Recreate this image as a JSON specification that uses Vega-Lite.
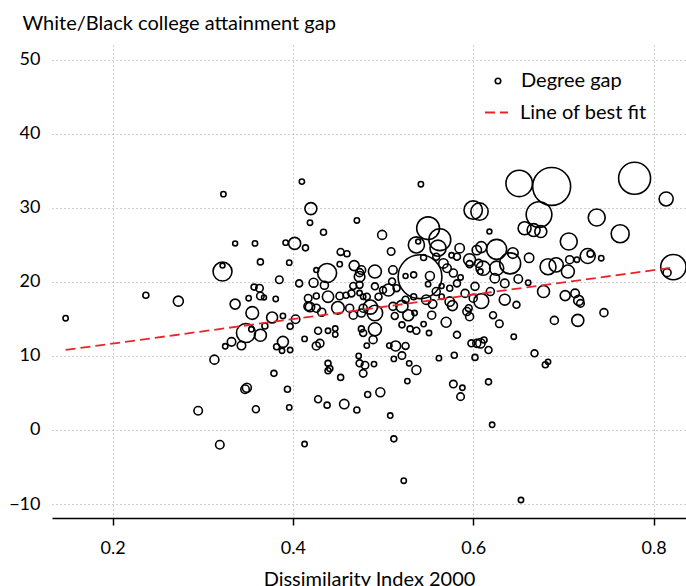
{
  "$schema": "https://vega.github.io/schema/vega-lite/v6.json",
  "width": 634,
  "height": 473,
  "autosize": {"type": "none"},
  "padding": {"left": 52, "top": 45, "right": 0, "bottom": 68},
  "background": "white",
  "config": {
    "font": "Lato",
    "view": {"stroke": null},
    "axis": {
      "labelFont": "Lato",
      "labelFontSize": 18,
      "labelColor": "black",
      "titleFont": "Lato",
      "titleFontSize": 20,
      "titleFontWeight": "normal",
      "titleColor": "black",
      "gridColor": "#a0a0a0",
      "gridDash": [1, 3],
      "gridWidth": 1
    },
    "legend": {
      "labelFont": "Lato",
      "labelFontSize": 20,
      "labelColor": "black"
    }
  },
  "datasets": {
    "pts": [
      {"d":0.323,"g":31.85,"p":7},{"d":0.148,"g":15.1,"p":7},{"d":0.237,"g":18.2,"p":9},{"d":0.273,"g":17.4,"p":25},
      {"d":0.322,"g":21.4,"p":90},{"d":0.322,"g":22.2,"p":6},{"d":0.336,"g":25.2,"p":6},{"d":0.358,"g":25.2,"p":7},
      {"d":0.336,"g":17.0,"p":25},{"d":0.351,"g":17.8,"p":7},{"d":0.355,"g":15.8,"p":40},{"d":0.348,"g":13.1,"p":90},
      {"d":0.354,"g":13.6,"p":7},{"d":0.332,"g":11.9,"p":18},{"d":0.325,"g":11.3,"p":7},{"d":0.343,"g":11.4,"p":18},
      {"d":0.313,"g":9.5,"p":20},{"d":0.349,"g":5.7,"p":20},{"d":0.347,"g":5.5,"p":18},{"d":0.295,"g":2.6,"p":18},
      {"d":0.359,"g":2.8,"p":12},{"d":0.319,"g":-2.0,"p":18},
      {"d":0.410,"g":33.55,"p":7},{"d":0.420,"g":29.9,"p":36},{"d":0.419,"g":28.0,"p":7},{"d":0.471,"g":28.3,"p":7},
      {"d":0.434,"g":26.7,"p":9},{"d":0.392,"g":25.3,"p":7},{"d":0.402,"g":25.2,"p":36},{"d":0.414,"g":24.6,"p":9},
      {"d":0.364,"g":22.7,"p":9},{"d":0.396,"g":22.6,"p":7},{"d":0.453,"g":24.05,"p":12},{"d":0.460,"g":23.8,"p":9},
      {"d":0.452,"g":22.4,"p":7},{"d":0.438,"g":21.2,"p":90},{"d":0.468,"g":22.2,"p":25},{"d":0.426,"g":21.6,"p":6},
      {"d":0.476,"g":21.6,"p":18},{"d":0.474,"g":20.7,"p":28},{"d":0.385,"g":20.3,"p":14},{"d":0.407,"g":19.8,"p":12},
      {"d":0.423,"g":19.9,"p":20},{"d":0.435,"g":19.55,"p":16},{"d":0.357,"g":19.3,"p":9},{"d":0.363,"g":19.15,"p":14},
      {"d":0.364,"g":18.1,"p":14},{"d":0.368,"g":17.9,"p":6},{"d":0.381,"g":17.7,"p":7},{"d":0.417,"g":17.8,"p":14},
      {"d":0.426,"g":18.1,"p":9},{"d":0.439,"g":18.0,"p":32},{"d":0.452,"g":18.1,"p":14},{"d":0.459,"g":18.2,"p":9},
      {"d":0.417,"g":16.7,"p":18},{"d":0.450,"g":16.5,"p":40},{"d":0.478,"g":18.0,"p":7},{"d":0.474,"g":18.5,"p":7},
      {"d":0.377,"g":15.2,"p":30},{"d":0.389,"g":15.4,"p":7},{"d":0.403,"g":14.95,"p":18},{"d":0.419,"g":16.6,"p":22},
      {"d":0.426,"g":16.45,"p":16},{"d":0.467,"g":15.5,"p":16},{"d":0.476,"g":15.8,"p":16},{"d":0.369,"g":14.05,"p":9},
      {"d":0.364,"g":12.8,"p":36},{"d":0.397,"g":14.0,"p":9},{"d":0.389,"g":11.9,"p":30},{"d":0.382,"g":11.25,"p":9},
      {"d":0.388,"g":10.7,"p":7},{"d":0.397,"g":10.8,"p":7},{"d":0.413,"g":12.3,"p":7},{"d":0.428,"g":13.4,"p":12},
      {"d":0.439,"g":13.4,"p":7},{"d":0.447,"g":13.7,"p":7},{"d":0.447,"g":12.9,"p":7},{"d":0.430,"g":11.7,"p":16},
      {"d":0.426,"g":11.35,"p":16},{"d":0.476,"g":13.65,"p":9},{"d":0.478,"g":13.1,"p":12},{"d":0.482,"g":11.4,"p":7},
      {"d":0.473,"g":10.0,"p":7},{"d":0.439,"g":9.0,"p":9},{"d":0.439,"g":8.0,"p":9},{"d":0.441,"g":8.3,"p":9},
      {"d":0.474,"g":9.0,"p":12},{"d":0.480,"g":8.75,"p":14},{"d":0.478,"g":7.65,"p":14},{"d":0.453,"g":7.1,"p":9},
      {"d":0.379,"g":7.65,"p":9},{"d":0.394,"g":5.5,"p":9},{"d":0.428,"g":4.15,"p":12},{"d":0.438,"g":3.35,"p":9},
      {"d":0.457,"g":3.5,"p":22},{"d":0.471,"g":2.7,"p":9},{"d":0.483,"g":4.8,"p":9},{"d":0.396,"g":3.05,"p":7},
      {"d":0.413,"g":-1.9,"p":7},
      {"d":0.542,"g":33.2,"p":7},{"d":0.600,"g":29.7,"p":85},{"d":0.607,"g":29.5,"p":75},{"d":0.550,"g":27.25,"p":130},
      {"d":0.563,"g":25.7,"p":120},{"d":0.537,"g":25.0,"p":65},{"d":0.561,"g":24.55,"p":65},{"d":0.499,"g":26.35,"p":20},
      {"d":0.509,"g":24.1,"p":14},{"d":0.541,"g":20.7,"p":480},{"d":0.525,"g":20.8,"p":6},{"d":0.534,"g":20.95,"p":9},
      {"d":0.552,"g":20.8,"p":20},{"d":0.550,"g":19.7,"p":7},{"d":0.539,"g":25.45,"p":6},{"d":0.545,"g":23.3,"p":9},
      {"d":0.559,"g":23.4,"p":12},{"d":0.567,"g":22.5,"p":22},{"d":0.571,"g":21.85,"p":18},{"d":0.576,"g":23.6,"p":7},
      {"d":0.585,"g":24.55,"p":22},{"d":0.582,"g":23.4,"p":12},{"d":0.596,"g":23.0,"p":36},{"d":0.604,"g":24.3,"p":22},
      {"d":0.606,"g":22.5,"p":16},{"d":0.491,"g":21.4,"p":42},{"d":0.511,"g":21.6,"p":18},{"d":0.474,"g":21.25,"p":16},
      {"d":0.474,"g":19.6,"p":12},{"d":0.510,"g":20.05,"p":12},{"d":0.491,"g":19.4,"p":12},{"d":0.506,"g":18.9,"p":36},
      {"d":0.515,"g":19.15,"p":12},{"d":0.495,"g":18.0,"p":12},{"d":0.482,"g":18.0,"p":12},{"d":0.534,"g":18.0,"p":9},
      {"d":0.548,"g":17.6,"p":22},{"d":0.565,"g":18.0,"p":7},{"d":0.574,"g":17.35,"p":22},{"d":0.591,"g":18.45,"p":16},
      {"d":0.600,"g":17.8,"p":16},{"d":0.486,"g":16.6,"p":50},{"d":0.511,"g":16.7,"p":16},
      {"d":0.491,"g":15.8,"p":60},{"d":0.491,"g":13.6,"p":42},{"d":0.478,"g":16.45,"p":16},{"d":0.489,"g":12.2,"p":16},
      {"d":0.513,"g":15.4,"p":12},{"d":0.521,"g":14.2,"p":9},{"d":0.528,"g":15.5,"p":30},{"d":0.530,"g":13.65,"p":9},
      {"d":0.537,"g":13.4,"p":12},{"d":0.545,"g":14.3,"p":7},{"d":0.535,"g":15.8,"p":7},{"d":0.551,"g":13.1,"p":7},
      {"d":0.554,"g":15.5,"p":16},{"d":0.570,"g":14.55,"p":25},{"d":0.582,"g":12.85,"p":12},{"d":0.593,"g":16.0,"p":16},
      {"d":0.596,"g":15.3,"p":16},{"d":0.514,"g":11.35,"p":25},{"d":0.507,"g":11.4,"p":7},{"d":0.525,"g":11.35,"p":12},
      {"d":0.521,"g":10.05,"p":14},{"d":0.512,"g":9.6,"p":7},{"d":0.529,"g":9.0,"p":7},{"d":0.537,"g":8.1,"p":20},
      {"d":0.562,"g":9.7,"p":7},{"d":0.579,"g":10.1,"p":9},{"d":0.598,"g":11.7,"p":12},{"d":0.604,"g":11.7,"p":16},
      {"d":0.602,"g":9.8,"p":9},{"d":0.490,"g":8.9,"p":7},{"d":0.527,"g":6.6,"p":7},{"d":0.497,"g":5.1,"p":20},
      {"d":0.578,"g":6.2,"p":14},{"d":0.588,"g":5.7,"p":7},{"d":0.586,"g":4.5,"p":14},{"d":0.508,"g":1.95,"p":7},
      {"d":0.512,"g":-1.2,"p":9},{"d":0.523,"g":-6.85,"p":7},
      {"d":0.651,"g":33.3,"p":175},{"d":0.687,"g":32.9,"p":360},{"d":0.673,"g":29.1,"p":165},{"d":0.657,"g":27.25,"p":42},
      {"d":0.667,"g":27.0,"p":42},{"d":0.675,"g":26.8,"p":36},{"d":0.618,"g":26.8,"p":6},{"d":0.706,"g":25.45,"p":72},
      {"d":0.626,"g":24.4,"p":100},{"d":0.609,"g":24.7,"p":30},{"d":0.641,"g":22.5,"p":110},{"d":0.644,"g":23.9,"p":28},
      {"d":0.626,"g":21.85,"p":50},{"d":0.611,"g":21.85,"p":50},{"d":0.662,"g":23.25,"p":22},{"d":0.683,"g":22.05,"p":64},
      {"d":0.692,"g":22.3,"p":50},{"d":0.707,"g":23.0,"p":16},{"d":0.715,"g":23.0,"p":7},{"d":0.705,"g":21.4,"p":42},
      {"d":0.727,"g":23.5,"p":56},{"d":0.730,"g":23.8,"p":11},{"d":0.742,"g":23.2,"p":7},{"d":0.624,"g":20.5,"p":22},
      {"d":0.650,"g":20.4,"p":18},{"d":0.635,"g":19.8,"p":18},{"d":0.608,"g":21.4,"p":7},{"d":0.602,"g":19.4,"p":16},
      {"d":0.619,"g":18.7,"p":16},{"d":0.609,"g":17.4,"p":55},{"d":0.635,"g":17.6,"p":30},{"d":0.648,"g":16.9,"p":12},
      {"d":0.661,"g":19.9,"p":7},{"d":0.678,"g":18.7,"p":36},{"d":0.702,"g":18.15,"p":25},{"d":0.713,"g":18.45,"p":18},
      {"d":0.717,"g":17.5,"p":25},{"d":0.719,"g":17.1,"p":14},
      {"d":0.779,"g":34.0,"p":256},{"d":0.814,"g":31.2,"p":49},{"d":0.737,"g":28.7,"p":72},{"d":0.763,"g":26.5,"p":81},
      {"d":0.822,"g":22.0,"p":160},{"d":0.815,"g":21.25,"p":16},{"d":0.745,"g":15.85,"p":16},{"d":0.716,"g":14.8,"p":36},
      {"d":0.690,"g":14.8,"p":16},{"d":0.622,"g":15.5,"p":12},{"d":0.629,"g":14.35,"p":14},{"d":0.645,"g":12.6,"p":7},
      {"d":0.608,"g":11.7,"p":22},{"d":0.612,"g":12.15,"p":9},{"d":0.617,"g":10.8,"p":12},{"d":0.668,"g":10.35,"p":12},
      {"d":0.683,"g":9.2,"p":7},{"d":0.680,"g":8.8,"p":9},{"d":0.617,"g":6.5,"p":9},{"d":0.621,"g":0.7,"p":7},
      {"d":0.596,"g":22.4,"p":12},{"d":0.653,"g":-9.46,"p":7},
      {"d":0.525,"g":17.6,"p":12},{"d":0.521,"g":16.7,"p":36},{"d":0.555,"g":17.0,"p":18},{"d":0.577,"g":16.8,"p":25},
      {"d":0.595,"g":16.45,"p":12},{"d":0.559,"g":18.7,"p":16},{"d":0.574,"g":19.15,"p":9},{"d":0.565,"g":19.45,"p":6},
      {"d":0.582,"g":19.8,"p":12},{"d":0.586,"g":20.6,"p":7},{"d":0.578,"g":21.2,"p":16},{"d":0.432,"g":15.9,"p":16},
      {"d":0.463,"g":16.45,"p":16},{"d":0.465,"g":18.45,"p":12},{"d":0.467,"g":19.45,"p":12},{"d":0.500,"g":18.9,"p":12}
    ],
    "fit": [
      {"d":0.148,"g":10.81},
      {"d":0.821,"g":21.93}
    ]
  },
  "encoding": {
    "x": {
      "field": "d",
      "type": "quantitative",
      "scale": {"domain": [0.1329, 0.836], "nice": false, "zero": false},
      "axis": {
        "title": "Dissimilarity Index 2000",
        "values": [0.2, 0.4, 0.6, 0.8],
        "format": ".1f",
        "domain": true,
        "domainColor": "black",
        "domainWidth": 1.5,
        "ticks": true,
        "tickColor": "black",
        "tickWidth": 1.5,
        "tickSize": 7,
        "labelPadding": 14,
        "titlePadding": 12
      }
    },
    "y": {
      "field": "g",
      "type": "quantitative",
      "scale": {"domain": [-11.89, 52], "nice": false, "zero": false},
      "axis": {
        "title": "White/Black college attainment gap",
        "values": [-10, 0, 10, 20, 30, 40, 50],
        "domain": false,
        "ticks": false,
        "labelPadding": 12,
        "titleAngle": 0,
        "titleAlign": "left",
        "titleBaseline": "alphabetic",
        "titleX": -30,
        "titleY": -16
      }
    }
  },
  "layer": [
    {
      "data": {"name": "pts"},
      "mark": {"type": "point", "shape": "circle", "filled": false, "stroke": "black", "strokeWidth": 1.6, "opacity": 1},
      "encoding": {
        "size": {
          "field": "p",
          "type": "quantitative",
          "scale": {"type": "linear", "domain": [0, 480], "range": [0, 1920]},
          "legend": null
        },
        "shape": {
          "datum": "Degree gap",
          "scale": {"domain": ["Degree gap"], "range": ["circle"]},
          "legend": {
            "title": null,
            "orient": "none",
            "legendX": 436,
            "legendY": 26,
            "symbolSize": 30,
            "symbolStrokeColor": "black",
            "symbolFillColor": "white",
            "symbolStrokeWidth": 1.6,
            "labelOffset": 13
          }
        }
      }
    },
    {
      "data": {"name": "fit"},
      "mark": {"type": "line", "color": "#e8262a", "strokeWidth": 1.8},
      "encoding": {
        "strokeDash": {
          "datum": "Line of best fit",
          "scale": {"domain": ["Line of best fit"], "range": [[10, 5]]},
          "legend": {
            "title": null,
            "orient": "none",
            "legendX": 432,
            "legendY": 55,
            "symbolType": "stroke",
            "symbolSize": 529,
            "symbolStrokeColor": "#e8262a",
            "symbolStrokeWidth": 1.8,
            "labelOffset": 11
          }
        }
      }
    }
  ]
}
